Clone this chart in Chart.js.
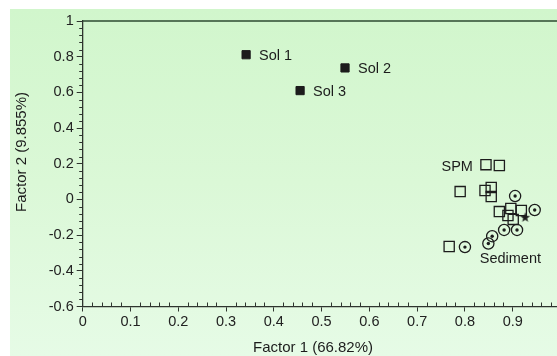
<!DOCTYPE html>
<html>
<head>
<meta charset="utf-8">
<script src="https://cdn.jsdelivr.net/npm/chart.js@4/dist/chart.umd.min.js"></script>
<style>
  html, body { margin: 0; padding: 0; background: #ffffff; overflow: hidden; width: 557px; height: 356px; }
  #bg { position: absolute; left: 10px; top: 9px; width: 547px; height: 347px;
        background: linear-gradient(to bottom, #d1f6cc 0%, #dbf8d7 50%, #e6fbe6 100%); }
  #wrap { position: absolute; left: 0; top: 0; width: 600px; height: 356px; }
</style>
</head>
<body>
<div id="bg"></div>
<div id="wrap"><canvas id="c" width="600" height="356"></canvas></div>
<script>
// Factor scores (Factor 1, Factor 2) for each sample group
const solX = [0.342, 0.549, 0.455];
const solY = [0.811, 0.737, 0.610];
const solNames = ['Sol 1', 'Sol 2', 'Sol 3'];

const spmX = [0.844, 0.872, 0.790, 0.842, 0.855, 0.855, 0.872, 0.896, 0.890, 0.901, 0.918, 0.767];
const spmY = [0.195, 0.190, 0.044, 0.050, 0.067, 0.016, -0.068, -0.051, -0.090, -0.112, -0.062, -0.264];

const sedX = [0.905, 0.946, 0.882, 0.909, 0.857, 0.849, 0.800];
const sedY = [0.019, -0.059, -0.171, -0.171, -0.206, -0.247, -0.267];

const starX = [0.926];
const starY = [-0.100];

const xTitle = 'Factor 1 (66.82%)';
const yTitle = 'Factor 2 (9.855%)';
const groupLabels = ['SPM', 'Sediment'];

const FONT = '"Liberation Sans", Arial, Helvetica, sans-serif';
const INK = '#1c1c1c';
const AXIS = '#2e342e';

const pts = (xs, ys) => xs.map((x, i) => ({ x: x, y: ys[i] }));

// small filled star used as a point marker
const starImg = document.createElement('canvas');
starImg.width = 11; starImg.height = 11;
(function () {
  const g = starImg.getContext('2d');
  g.fillStyle = INK;
  g.beginPath();
  for (let i = 0; i < 10; i++) {
    const r = i % 2 === 0 ? 5.2 : 2.1;
    const a = -Math.PI / 2 + i * Math.PI / 5;
    const px = 5.5 + r * Math.cos(a), py = 5.8 + r * Math.sin(a);
    if (i === 0) g.moveTo(px, py); else g.lineTo(px, py);
  }
  g.closePath();
  g.fill();
})();

// minor ticks, plot top edge, text labels and axis titles
const decorations = {
  id: 'decorations',
  afterDraw(chart) {
    const ctx = chart.ctx;
    const xs = chart.scales.x, ys = chart.scales.y;
    const a = chart.chartArea;
    ctx.save();
    ctx.strokeStyle = AXIS;
    ctx.lineWidth = 1;
    // x minor ticks (every 0.02), pointing into the plot
    for (let k = 0; k <= 50; k++) {
      if (k % 5 === 0) continue;
      const px = Math.round(xs.getPixelForValue(k * 0.02)) + 0.5;
      if (px > a.right) continue;
      ctx.beginPath();
      ctx.moveTo(px, a.bottom);
      ctx.lineTo(px, a.bottom - 4);
      ctx.stroke();
    }
    // y minor ticks (every 0.04), pointing outward
    for (let k = -15; k <= 25; k++) {
      if (k % 5 === 0) continue;
      const py = Math.round(ys.getPixelForValue(k * 0.04)) + 0.5;
      ctx.beginPath();
      ctx.moveTo(a.left, py);
      ctx.lineTo(a.left - 3.5, py);
      ctx.stroke();
    }
    // top edge of the plot
    ctx.strokeStyle = '#2c4a30';
    ctx.lineWidth = 1.6;
    ctx.beginPath();
    ctx.moveTo(a.left, a.top);
    ctx.lineTo(a.right, a.top);
    ctx.stroke();

    // point labels
    ctx.fillStyle = INK;
    ctx.font = '14.5px ' + FONT;
    ctx.textBaseline = 'middle';
    ctx.textAlign = 'left';
    solNames.forEach((name, i) => {
      ctx.fillText(name, xs.getPixelForValue(solX[i]) + 13, ys.getPixelForValue(solY[i]) + 1);
    });
    ctx.fillText(groupLabels[0], xs.getPixelForValue(0.751), ys.getPixelForValue(0.179));
    ctx.fillText(groupLabels[1], xs.getPixelForValue(0.831), ys.getPixelForValue(-0.331));

    // axis titles
    ctx.font = '15px ' + FONT;
    ctx.textAlign = 'center';
    ctx.fillText(xTitle, 313, 348);
    ctx.translate(22, 152);
    ctx.rotate(-Math.PI / 2);
    ctx.fillText(yTitle, 0, 0);
    ctx.restore();
  }
};

new Chart(document.getElementById('c'), {
  type: 'scatter',
  data: {
    datasets: [
      { label: 'SPM', data: pts(spmX, spmY), pointStyle: 'rect', pointRadius: 7.2, pointHoverRadius: 7.2,
        borderColor: INK, borderWidth: 1.3, backgroundColor: 'rgba(0,0,0,0)' },
      { label: 'Sediment', data: pts(sedX, sedY), pointStyle: 'circle', pointRadius: 5.6, pointHoverRadius: 5.6,
        borderColor: INK, borderWidth: 1.3, backgroundColor: 'rgba(0,0,0,0)' },
      { label: 'Sediment centre', data: pts(sedX, sedY), pointStyle: 'circle', pointRadius: 1.7, pointHoverRadius: 1.7,
        borderWidth: 0, backgroundColor: INK },
      { label: 'Star', data: pts(starX, starY), pointStyle: starImg, pointRadius: 5 },
      { label: 'Sol', data: pts(solX, solY), pointStyle: 'rect', pointRadius: 5.8, pointHoverRadius: 5.8,
        borderColor: INK, borderWidth: 1, backgroundColor: INK }
    ]
  },
  options: {
    responsive: false,
    animation: false,
    devicePixelRatio: 1,
    layout: { padding: { top: 21, right: 39.5, left: 0, bottom: 0 } },
    plugins: { legend: { display: false }, tooltip: { enabled: false } },
    scales: {
      x: {
        type: 'linear', min: 0, max: 1,
        afterFit(s) { s.height = 49.5; },
        grid: { drawOnChartArea: false, drawTicks: true, tickLength: 5, color: AXIS, lineWidth: 1 },
        border: { display: true, color: AXIS, width: 1.3 },
        ticks: { stepSize: 0.1, padding: 2, color: '#222', font: { size: 14.5, family: FONT },
                 maxRotation: 0, autoSkip: false,
                 callback: v => String(+v.toFixed(1)) }
      },
      y: {
        type: 'linear', min: -0.6, max: 1,
        afterFit(s) { s.width = 82.7; },
        grid: { drawOnChartArea: false, drawTicks: true, tickLength: 6, color: AXIS, lineWidth: 1 },
        border: { display: true, color: AXIS, width: 1.3 },
        ticks: { stepSize: 0.2, padding: 3, color: '#222', font: { size: 14.5, family: FONT },
                 autoSkip: false,
                 callback: v => String(+v.toFixed(1)) }
      }
    }
  },
  plugins: [decorations]
});
</script>
</body>
</html>
